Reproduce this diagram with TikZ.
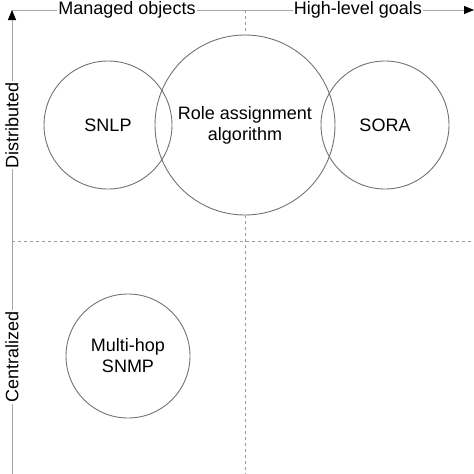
\documentclass[tikz,border=0pt]{standalone}
\usepackage{fontspec}
\setmainfont{Liberation Sans}
\usetikzlibrary{arrows.meta}

\begin{document}
\begin{tikzpicture}[x=1pt, y=-1pt]
	\tikzstyle{every node} = [font=\fontsize{18}{21}\selectfont, align=center]
	\tikzstyle{axis} = [draw=gray!70, line width=0.9pt]
	\tikzstyle{axislabel} = [fill=white, inner sep=1pt]
	\tikzstyle{grid} = [draw=gray!80, dashed, line width=0.8pt]
	\tikzstyle{area} = [circle, draw=gray!90!black, line width=0.9pt, inner sep=0pt]
	\useasboundingbox (0,0) rectangle (474,474);
	\coordinate (origin) at (12,10);
	\coordinate (xend) at (474,10);
	\coordinate (ybottom) at (12,474);
	\coordinate (vtop) at (245,10);
	\coordinate (vbottom) at (245,474);
	\coordinate (hleft) at (12,241);
	\coordinate (hright) at (474,241);
	\node[area, minimum size=180pt] (Role) at (245,125) {Role assignment\\algorithm};
	\node[area, minimum size=128pt] (SNLP) at (108,125) {SNLP};
	\node[area, minimum size=128pt] (SORA) at (385,125) {SORA};
	\node[area, minimum size=124pt] (SNMP) at (128,356) {Multi-hop\\SNMP};
	\draw [grid] (vtop)--(Role.north);
	\draw [grid] (Role.south)--(vbottom);
	\draw [grid] (hleft)--(hright);
	\draw [axis, -{Triangle[length=10pt, width=8pt, color=black]}] (origin)--(xend);
	\draw [axis, -{Triangle[length=10pt, width=8pt, color=black]}] (ybottom)--(origin);
	\node[axislabel] (Managed) at (127,10) {Managed objects};
	\node[axislabel] (Goals) at (358,10) {High-level goals};
	\node[axislabel, rotate=90] (Distributed) at (12,125) {Distributed};
	\node[axislabel, rotate=90] (Centralized) at (12,357) {Centralized};
\end{tikzpicture}
\end{document}
